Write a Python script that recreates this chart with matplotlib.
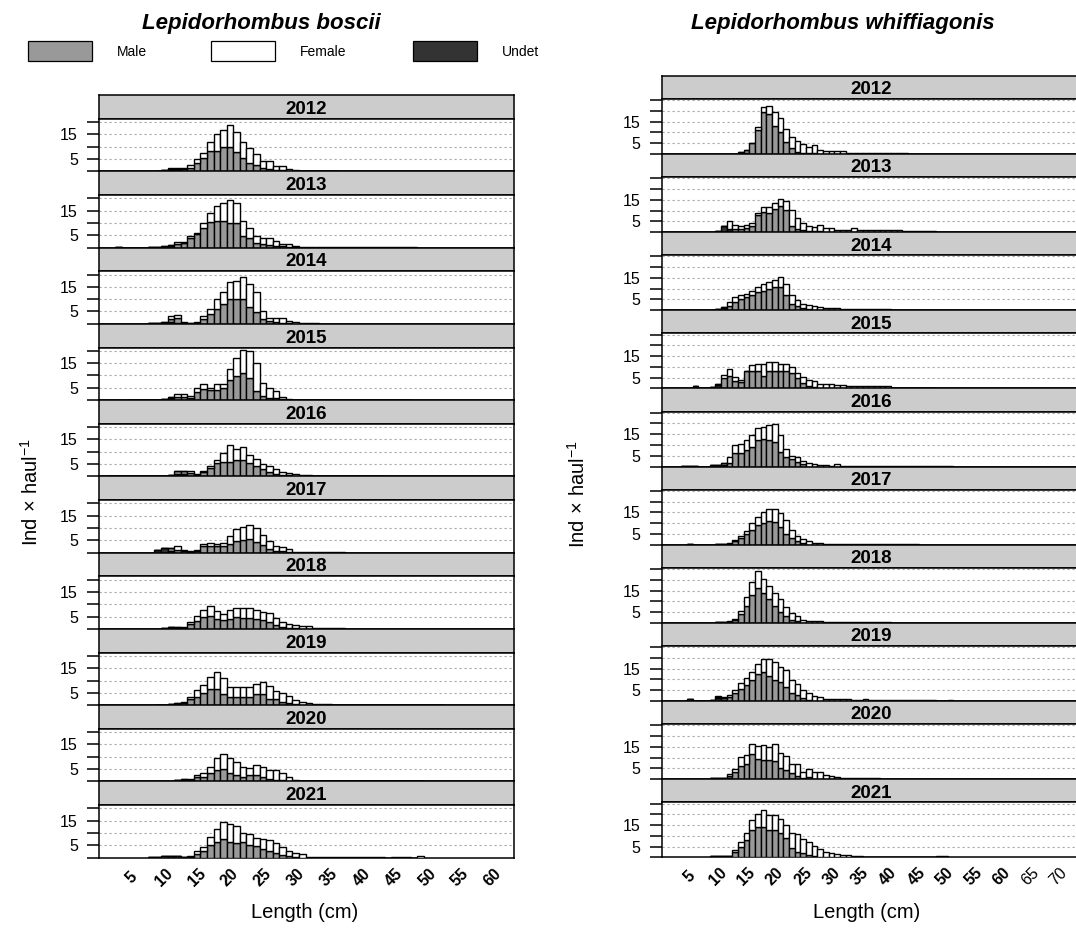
import numpy as np
import matplotlib.pyplot as plt
from matplotlib.patches import Rectangle

plt.rcParams['font.family'] = ['Liberation Sans', 'DejaVu Sans']
plt.rcParams['mathtext.fontset'] = 'custom'
plt.rcParams['mathtext.rm'] = 'Liberation Sans'
plt.rcParams['mathtext.it'] = 'Liberation Sans:italic'

years = [2012, 2013, 2014, 2015, 2016, 2017, 2018, 2019, 2020, 2021]
sexes = ['Male', 'Female', 'Undet']
sex_colors = ['#999999', '#FFFFFF', '#333333']

# Lepidorhombus boscii: first length class (cm) of each year row, then Ind/haul by 1 cm class
bos_first = [9, 3, 8, 5, 2, 9, 10, 9, 12, 8]
bos_male = [
    [0, .2, .4, .5, .8, 1.5, 3.5, 5.5, 8.2, 8.2, 10, 10, 7.7, 5.2, 3.4, 2.5, 1.5, 1.0, .5, .4, .3, .2] + [0] * 6,
    [0] * 7 + [.2, .4, 1.5, 2, 4, 5.5, 7.8, 10.5, 10.6, 10.6, 9.8, 9.8, 4.5, 3.8, 2, 1.5, 1, .8, .5, .4, .2] + [0] * 18,
    [0, 0, .3, 1.5, 2, .5, .3, .5, 2, 4, 6, 8, 10, 10, 10, 7, 4.8, 2, 1, .6, .5, .3, 0, 0, 0, 0],
    [0] * 6 + [.6, 1.3, 1.3, .8, 3.4, 4.4, 4, 4.2, 4.8, 8, 9.8, 10.9, 8.8, 3.7, 1.6, 1, .8, .4, .2] + [0] * 18,
    [0] * 10 + [1.5, 1.5, 1.2, .5, 1.8, 3.4, 5.3, 6, 6, 6.7, 6.8, 5.3, 4.1, 3, 1.6, 1, .6, .4, .2] + [0] * 13,
    [0, 0, 1.2, 1.2, .6, .3, .6, 2.7, 2.7, 2.7, 2.7, 3.4, 4.8, 5, 5.4, 4.4, 3, 1.5, .8, .6, .4] + [0] * 8,
    [0, 0, .3, .5, 2, 3.4, 4.8, 5.4, 4.1, 3.7, 4.1, 4.8, 4.4, 4.4, 4.1, 3.7, 2.7, 1.6, .7, .5, .3] + [0] * 7,
    [0, 0, .2, .5, 1, 2.7, 3.4, 5, 6.4, 6.4, 4.4, 3.4, 3.4, 3.4, 3.4, 4.4, 4.4, 2.3, 2.4, 1.4, .8, .4, .2] + [0] * 21,
    [0, .5, .6, 2, 2, 3.5, 4.7, 5.1, 3.5, 2.7, 2, 2.7, 2.7, 2, .8, .6, .4, .2] + [0] * 20,
    [0] * 5 + [.2, .4, 1.5, 2.7, 5.1, 6.5, 7.4, 6.5, 5.8, 6.5, 5.1, 4.7, 3.4, 2.7, 1.8, 1.2, .6, .3] + [0] * 19,
]
bos_female = [
    [0, 0, .2, .3, .5, 1.0, 1.5, 1.8, 3.8, 6.8, 6.8, 8.9, 8.2, 6.8, 5.9, 4.5, 2.5, 3.0, 1.7, 1.8, .7, .4] + [.2] * 6,
    [0] * 9 + [.8, .3, .5, .4, 2, 3.4, 6.1, 7.4, 9.5, 8.2, 6.1, 4, 2.5, 2.5, 2.7, 1.9, 1.1, 1.2, .4] + [.2] * 4 + [.05] * 14,
    [0, 0, 0, 1.0, 1.2, .3, .1, .3, 1.1, 1.9, 4, 5, 7, 7.5, 9, 9, 8, 3.4, 1.4, 1.7, 1.8, .8, .8, .2, .2, .2],
    [.05] + [0] * 6 + [1.0, 1.0, .8, 1.4, 2.0, .8, 2.2, 1.6, 4.5, 7.2, 9.4, 11.2, 11.5, 5.4, 3.8, 2.9, .8, .3]
    + [.2] * 4 + [0, 0, .05, 0, 0, .05, 0, 0, 0, 0, 0, 0, 0, .05],
    [0] * 12 + [.8, .3, .5, .7, 1.5, 3.5, 6.9, 4.2, 5, 3.5, 3, 2, 2.5, 2, 1, 1, .6, .6, .6] + [.2] * 11,
    [0, 0, .3, 1.5, .4, .2, .4, .7, 1.4, .7, 1.4, 3.4, 4.7, 5.2, 5.9, 5.5, 4.2, 3.3, 1.9, 1.7, 1.0, .3, .3] + [.2] * 6,
    [0, 0, 0, .3, .7, 2, 3, 3.7, 3.1, 2.2, 3.7, 3.8, 4.2, 4.2, 3.7, 3.1, 3.7, 2.9, 2, 1.5, 1.1, 1, 1] + [.2] * 5,
    [0, 0, 0, 0, .4, .7, 2.7, 3.2, 5.2, 7.2, 6.8, 4.1, 4.1, 4.1, 4.1, 4, 4.9, 5.6, 3.3, 3.4, 2.9, 1.6, .9, .7]
    + [.3] * 3 + [.05, 0, 0, .05, 0, 0, 0, .05, 0, 0, 0, 0, .05, 0, 0, 0, .05],
    [0, .2, .5, .7, 1.5, 2.3, 4.8, 6.1, 6, 5.1, 3.8, 2.7, 4.1, 3.8, 3.9, 4.1, 3, 1.8, .6]
    + [.3] * 3 + [0, .05, 0, 0, .05, 0, 0, .05, 0, 0, 0, .05, 0, 0, 0, .05],
    [0] * 6 + [.2, 1.2, 1.8, 3.4, 5, 7.2, 7, 7, 3.6, 4.4, 3.1, 4, 4.5, 4.3, 3.3, 2.1, 1.5, 1.4, .4, .4]
    + [.3] * 10 + [0, .1, .1, .1, 0, .5],
]
bos_undet = [
    [.3, .4, .6, .4, .2],
    [.4, 0, 0, 0, 0, .2, .4, .4, .6],
    [.2, .3, .3, .6, .5],
    [0, 0, 0, 0, .2, .4, .8],
    [.3, .3, 0, 0, 0, 0, 0, 0, .3, .6, .8, .8],
    [1.1, 2, .5],
    [.3, .6, .3],
    [.2, .2, .3, .5],
    [.4, .4],
    [.3, .3, .5, .5, .5, .1],
]

# Lepidorhombus whiffiagonis
whi_first = [14, 10, 9, 6, 4, 5, 10, 5, 9, 9]
whi_male = [
    [.5, 1.5, 5, 10.9, 19.5, 18.7, 13, 10.2, 5.5, 2.8, 1, .5, .3, .3] + [0] * 16,
    [0, 0, 0, 1.5, 1.5, 2, 3, 8, 9.5, 9, 10.6, 12.1, 10.3, 2.9, 1.5, .8, .5, .3, .3] + [0] * 20,
    [0, 0, .5, 2, 4, 5, 6, 7, 8.5, 9, 10, 11, 11, 7, 3, 2, 1, .5] + [0] * 14,
    [0] * 4 + [.5, 4.8, 5.8, 3.3, 2.8, 8, 8, 8, 5.8, 8, 8, 8, 8, 7, 4.8, 2.5, 1, .5] + [0] * 21,
    [0] * 7 + [1, 1.8, 6.2, 6.5, 7.5, 9, 12.3, 12.6, 12.2, 11.4, 6.9, 4.6, 3.4, 2, 1] + [0] * 26,
    [0] * 7 + [.5, 1.5, 3, 5, 7, 9, 10, 11, 10.5, 8, 5, 3, 1.5, 1] + [0] * 20,
    [0, 0, .5, 1.5, 4, 8, 13, 16, 14, 11, 8, 5, 3, 1.5, 1] + [0] * 16,
    [0] * 5 + [.5, 1, 2, 3.8, 5.7, 7.2, 9.9, 12.5, 13.3, 11.7, 9.9, 8.7, 6.5, 3.5, 3, 1.2, .5] + [0] * 25,
    [0, 0, .3, 1, 3.5, 6.2, 6.9, 11.5, 9.5, 8.9, 8.9, 8.2, 5.4, 4.2, 2.8, 1.5, .5, .8] + [0] * 12,
    [0] * 4 + [2.5, 4.9, 8, 12.6, 14.2, 14.2, 12.6, 12.6, 11.5, 8.8, 4.2, 2.6, 1.8, 1.2, .8] + [0] * 23,
]
whi_female = [
    [0, 0, 0, 1.6, 2.4, 3.6, 6.5, 6.5, 6.2, 5, 4.9, 3.9, 3.1, 3.6, 1.6, 1.2, 1.2, 1.2, 1.2] + [.3] * 11,
    [0, 0, 3.8, 1.9, 1.4, 1.4, 1.1, 1, 2.3, 2.5, 2.8, 3.1, 4.2, 7.4, 5, 3.3, 2.4, 2, 3.1, 1.8, 1.8, 1, 1, 1, 1.8]
    + [.8] * 6 + [1.1, 1.1] + [.3] * 6,
    [0, 0, 0, 2, 2, 2, 1.5, 2, 2.5, 3, 3, 3, 4.5, 5, 4, 2.5, 2, 2, 2, 1.5, 1.2, 1, .8] + [.4] * 9,
    [0] * 5 + [1.2, 3, 1.9, .9, 0, 2.7, 3.5, 5.7, 4.2, 4.2, 3.5, 3.2, 2.7, 2.5, 2.7, 3, 2.8, 2, 2, 1.8, 1.5, 1.5, 1]
    + [.9] * 6 + [1.3] + [.3] * 8,
    [0] * 8 + [2.8, 3.8, 4.1, 4.8, 5.6, 5.4, 5.7, 6.9, 8.4, 7.7, 3.4, 1.5, 2.2, 1.6, 1.4, 1.2, .8, .5, .3, 1.1]
    + [.3] * 14 + [.1] * 6,
    [0] * 7 + [.5, .8, 1, 1.5, 3, 4, 5, 5.5, 6, 6.5, 6.5, 4, 2.5, 1.5, 1.5, 1, 1, .5] + [.3] * 16,
    [0, 0, .3, .5, 1.5, 4, 6, 8, 6.5, 6, 6, 6, 4.5, 3, 2, 1.5, 1, 1, .8] + [.3] * 12,
    [0] * 5 + [.5, .5, 1, 1.5, 2.7, 3.3, 3.4, 4.8, 6, 7.6, 8.1, 7.3, 8, 6.4, 5, 4.1, 3.3, 2.3, 1.7, 1, .8, .8, 1, 1,
               .3, .3, 1] + [.3] * 12 + [0, 0, .6],
    [0, 0, 0, 1, 1.1, 4.3, 4.3, 4.7, 5.9, 6.8, 6, 8.3, 6.9, 6.6, 4.1, 5.4, 2.6, 3.8, 3.4, 3.4, 1.8, 1.5, 1.2]
    + [.4] * 4 + [.6] * 3,
    [0] * 4 + [.9, 2, 3.4, 4.9, 6.1, 7.6, 7.2, 7.2, 6.2, 6.4, 7.3, 8, 6.7, 6, 4.4, 3.7, 2.6, 1.8, 1.5, 1.2, 1.2,
               .5, .5] + [.3] * 12 + [0, .5, .5],
]
whi_undet = [
    [.3, .4],
    [.6, 2.6, 1.5],
    [.3, .5, 1.0],
    [1.0, 0, 0, .5, 1.5],
    [.2, .2, .2, 0, 0, .5, .5, .8],
    [.3, 0, 0, 0, 0, .3, .5],
    [.3, .5],
    [.8, 0, 0, .2, .5, 1.3, .5],
    [.3, .3, .4, .6],
    [.5, .5, .5, .5],
]

bos_xticks = list(range(5, 61, 5))
whi_xticks = list(range(5, 71, 5))

W, H = 1076, 941
fig = plt.figure(figsize=(W / 100, H / 100), dpi=100)


def box(x0, y0, x1, y1):
    # pixel box (top-left origin) -> figure fraction rect
    return [x0 / W, 1 - y1 / H, (x1 - x0) / W, (y1 - y0) / H]


def draw_species(first, male, female, undet, left, right, top, bottom, strip_h,
                 xmax, ymax, ytick_max, xticks, thin_labels=()):
    block = (bottom - top) / len(years)
    for i, yr in enumerate(years):
        bt = top + i * block
        sax = fig.add_axes(box(left, bt, right, bt + strip_h))
        sax.set_facecolor('#CCCCCC')
        sax.set_xticks([])
        sax.set_yticks([])
        for s in sax.spines.values():
            s.set_linewidth(1.1)
        sax.text(0.5, 0.4, str(yr), transform=sax.transAxes, ha='center', va='center',
                 fontsize=13.5, fontweight='bold')

        ax = fig.add_axes(box(left, bt + strip_h, right, bt + block))
        m = np.array(male[i], float)
        f = np.array(female[i], float)
        u = np.zeros(len(m))
        u[:len(undet[i])] = undet[i]
        L = first[i] + np.arange(len(m))
        kw = dict(width=1, edgecolor='black', linewidth=1.0, zorder=3)
        ax.bar(L, u, color=sex_colors[2], **kw)
        ax.bar(L, m, bottom=u, color=sex_colors[0], **kw)
        ax.bar(L, f, bottom=u + m, color=sex_colors[1], **kw)
        for g in range(5, ytick_max + 1, 5):
            ax.axhline(g, color='#aaaaaa', linestyle=(0, (2, 2.5)), linewidth=0.8, zorder=1)
        ax.set_xlim(0, xmax)
        ax.set_ylim(0, ymax)
        yt = list(range(0, ytick_max + 1, 5))
        ax.set_yticks(yt)
        ax.set_yticklabels(['5' if v == 5 else '15' if v == 15 else '' for v in yt], fontsize=11.5)
        ax.tick_params(axis='y', length=9, width=1.1, pad=6)
        for s in ax.spines.values():
            s.set_linewidth(1.1)
        if i == len(years) - 1:
            ax.set_xticks(xticks)
            labs = ax.set_xticklabels([str(v) for v in xticks], rotation=45, fontsize=11.5,
                                      fontweight='bold', va='center', ha='center')
            for t, v in zip(labs, xticks):
                if v in thin_labels:
                    t.set_fontweight('normal')
            ax.tick_params(axis='x', length=0, pad=14)
        else:
            ax.set_xticks([])


draw_species(bos_first, bos_male, bos_female, bos_undet, 98.6, 514, 95, 857.7, 23.8,
             63.2, 21.3, 20, bos_xticks)
draw_species(whi_first, whi_male, whi_female, whi_undet, 661.5, 1081, 75.7, 857.3, 23.3,
             74.0, 25.5, 25, whi_xticks, thin_labels=(65, 70))

# titles
fig.text(261 / W, 1 - 23 / H, 'Lepidorhombus boscii', ha='center', va='center',
         fontsize=16, fontweight='bold', fontstyle='italic')
fig.text(843 / W, 1 - 23 / H, 'Lepidorhombus whiffiagonis', ha='center', va='center',
         fontsize=16, fontweight='bold', fontstyle='italic')

# legend (left chart)
leg_x = [28, 211, 413]
for xr, name, col in zip(leg_x, sexes, sex_colors):
    fig.add_artist(Rectangle(box(xr, 41, xr + 64, 61)[:2], 64 / W, 20 / H, transform=fig.transFigure,
                             facecolor=col, edgecolor='black', linewidth=0.9))
    fig.text((xr + 89) / W, 1 - 52 / H, name, ha='left', va='center', fontsize=10)

# axis titles
ylab = r'Ind$\,\times\,$haul$^{-1}$'
fig.text(31 / W, 1 - 492 / H, ylab, rotation=90, ha='center', va='center', fontsize=14.5)
fig.text(578 / W, 1 - 494 / H, ylab, rotation=90, ha='center', va='center', fontsize=14.5)
fig.text(305 / W, 1 - 913 / H, 'Length (cm)', ha='center', va='center', fontsize=14.5)
fig.text(867 / W, 1 - 913 / H, 'Length (cm)', ha='center', va='center', fontsize=14.5)

fig.savefig('out.png', dpi=100)
